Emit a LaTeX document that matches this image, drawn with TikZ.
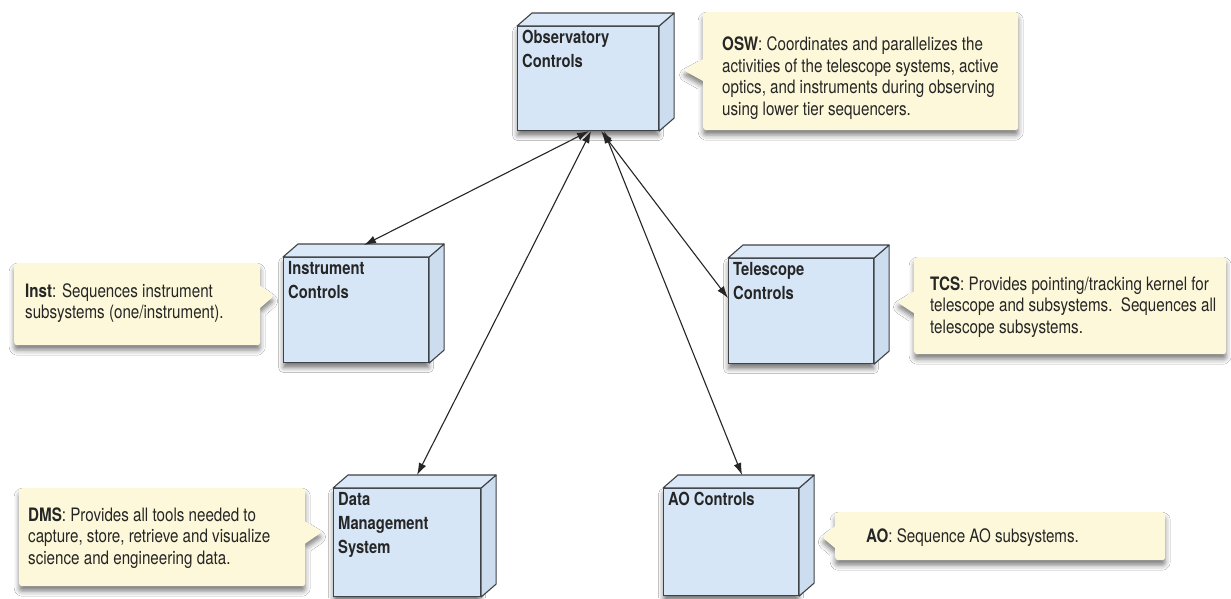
\documentclass[tikz,border=0pt]{standalone}
\usepackage{fontspec}
\setmainfont{TeX Gyre Heros}[FakeStretch=0.82]
\usetikzlibrary{shapes.callouts,shadows.blur,arrows.meta}
\definecolor{boxfill}{HTML}{D6E6F7}
\definecolor{boxside}{HTML}{CCDDF0}
\definecolor{boxtop}{HTML}{DAE8F7}
\definecolor{boxedge}{HTML}{3F4347}
\definecolor{notefill}{HTML}{FCF8D9}
\definecolor{inkcol}{HTML}{262626}
\tikzset{
  frontface/.style={draw=boxedge, line width=1.1pt, fill=boxfill, inner sep=0pt,
    blur shadow={shadow xshift=0pt, shadow yshift=-5pt, shadow blur radius=5pt, shadow opacity=55}},
  faceedge/.style={draw=boxedge, line width=1.1pt, line join=round},
  boxlabel/.style={font=\bfseries\fontsize{18}{24}\selectfont, align=left, inner sep=0pt, text=inkcol},
  note/.style={rectangle callout, fill=notefill, draw=none, inner sep=0pt, rounded corners=3pt,
    callout pointer width=22pt,
    blur shadow={shadow xshift=0pt, shadow yshift=-5pt, shadow blur radius=5pt, shadow opacity=50}},
  notetext/.style={font=\fontsize{18.5}{21.5}\selectfont, align=left, inner sep=0pt, text=inkcol, anchor=west},
  link/.style={draw=inkcol, line width=1.1pt, {Latex[length=12pt,width=8pt]}-{Latex[length=12pt,width=8pt]}}
}
\newcommand{\mkbox}[6]{%
  \node[frontface, minimum width=#4pt, minimum height=#5pt, anchor=north west] (#1) at (#2,#3) {};
  \draw[faceedge, fill=boxside] (#1.north east) -- ++(15,-13) -- ([shift={(15,-13)}]#1.south east) -- (#1.south east) -- cycle;
  \draw[faceedge, fill=boxtop] (#1.north west) -- ++(15,-13) -- ([shift={(15,-13)}]#1.north east) -- (#1.north east) -- cycle;
  \node[boxlabel, anchor=north west] (#1L) at ([shift={(5,4)}]#1.north west) {#6};
}
\begin{document}
\begin{tikzpicture}[x=1pt,y=-1pt]
\useasboundingbox[fill=white] (0,0) rectangle (1231,598);

% callouts
\node[note, minimum width=315pt, minimum height=118pt, anchor=north west, callout absolute pointer={(683,70)}] (oswC) at (703,12) {};
\node[notetext] (oswT) at (722,78) {\textbf{OSW}: Coordinates and parallelizes the\\activities of the telescope systems, active\\optics, and instruments during observing\\using lower tier sequencers.};

\node[note, minimum width=246pt, minimum height=82pt, anchor=north west, callout absolute pointer={(274,296)}] (instC) at (14,263) {};
\node[notetext] (instT) at (25,303) {\textbf{Inst}: Sequences instrument\\subsystems (one/instrument).};

\node[note, minimum width=312pt, minimum height=97pt, anchor=north west, callout absolute pointer={(897,302)}] (tcsC) at (914,257) {};
\node[notetext] (tcsT) at (930,307) {\textbf{TCS}: Provides pointing/tracking kernel for\\telescope and subsystems.\ \ Sequences all\\telescope subsystems.};

\node[note, minimum width=286pt, minimum height=98pt, anchor=north west, callout absolute pointer={(322,532)}] (dmsC) at (19,488) {};
\node[notetext] (dmsT) at (28,538) {\textbf{DMS}: Provides all tools needed to\\capture, store, retrieve and visualize\\science and engineering data.};

\node[note, minimum width=330pt, minimum height=48pt, anchor=north west, callout absolute pointer={(822,537)}] (aoC) at (835,512) {};
\node[notetext] (aoT) at (866,538) {\textbf{AO}: Sequence AO subsystems.};

% boxes
\mkbox{obs}{517}{26}{141}{104}{Observatory\\Controls}
\mkbox{inst}{283}{257}{145}{105}{Instrument\\Controls}
\mkbox{tel}{728}{258}{145}{105}{Telescope\\Controls}
\mkbox{dms}{333}{488}{147}{108}{Data\\Management\\System}
\mkbox{ao}{663}{488}{135}{107}{AO Controls}

% connectors
\draw[link] ([xshift=1pt]obs.south) -- ([shift={(8,-12)}]inst.north);
\draw[link] ([xshift=3pt]obs.south) -- ([shift={(10,-13)}]dms.north);
\draw[link] ([xshift=13pt]obs.south) -- ([yshift=13pt]tel.west);
\draw[link] ([xshift=16pt]obs.south) -- ([shift={(11,-13)}]ao.north);
\end{tikzpicture}
\end{document}
